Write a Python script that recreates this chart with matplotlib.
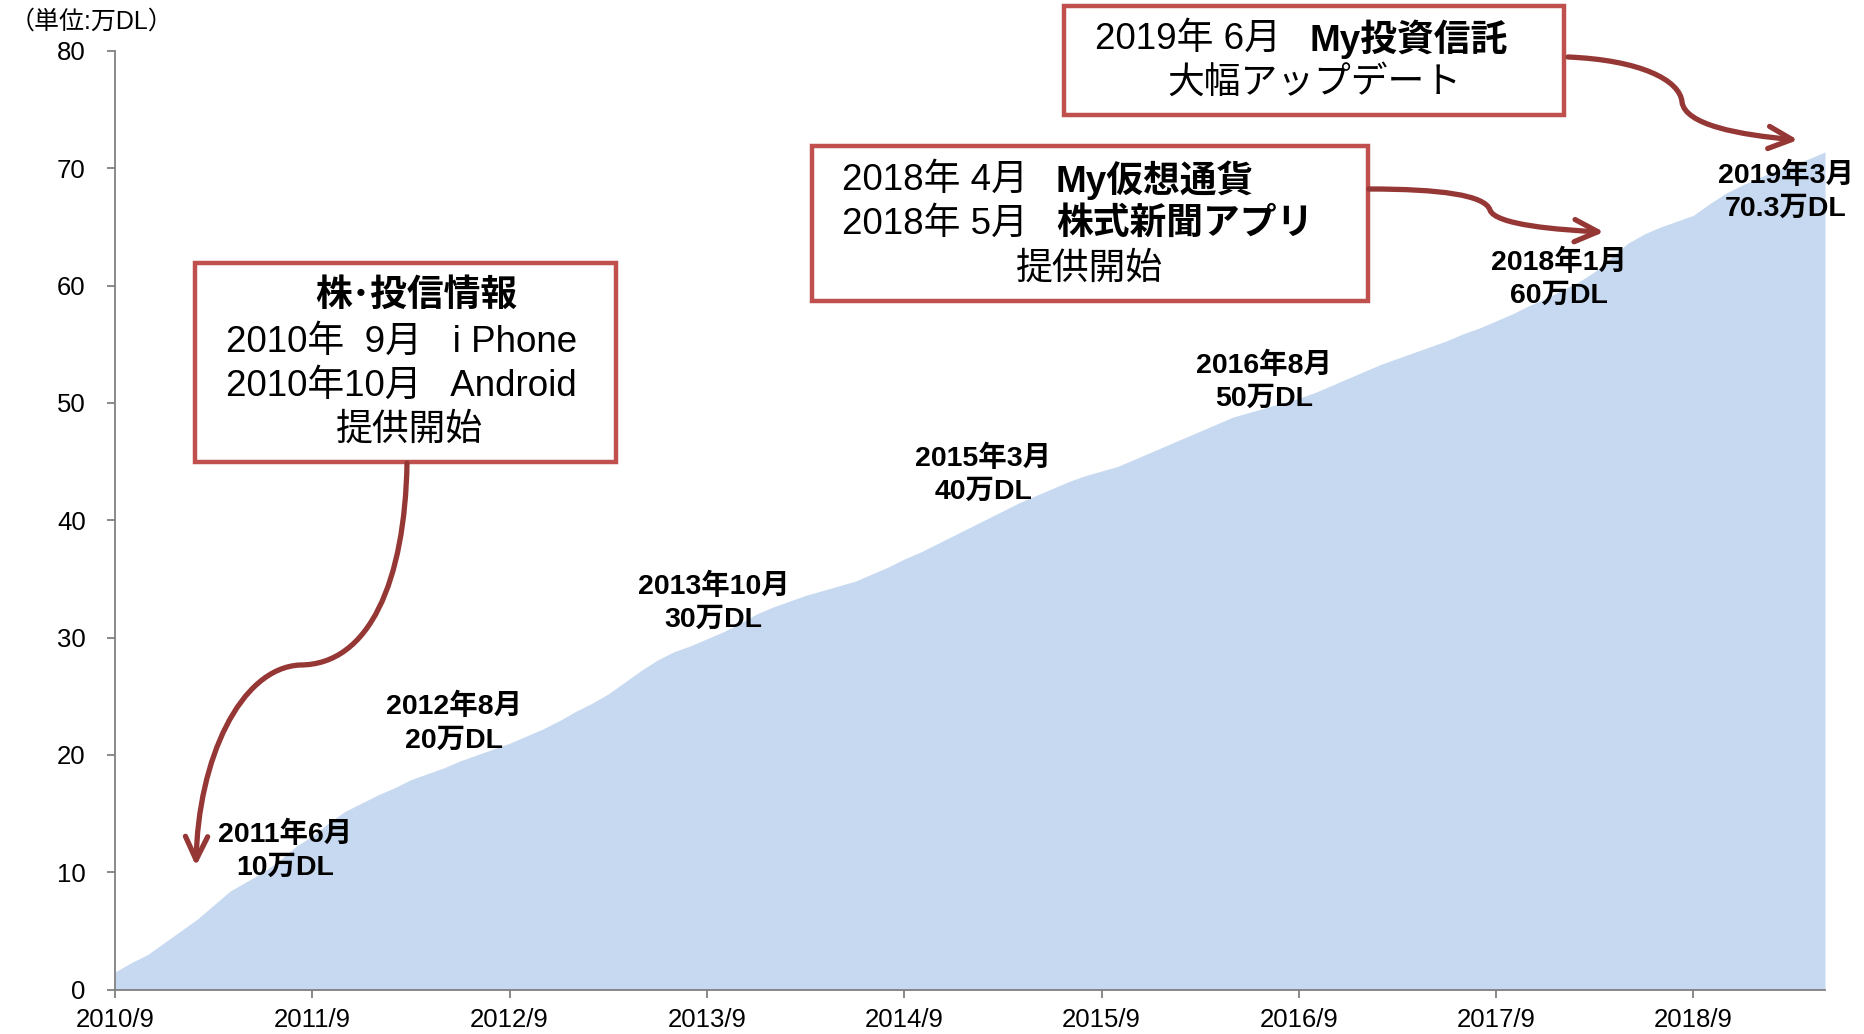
import matplotlib
matplotlib.use("Agg")
import matplotlib.pyplot as plt
from matplotlib.patches import Rectangle, FancyArrowPatch
from matplotlib.path import Path

plt.rcParams['font.family'] = ['Liberation Sans', 'Noto Sans CJK JP']

# monthly cumulative downloads (万DL), 2010/9 .. 2019/5
downloads = [
    1.5, 2.3, 3.0, 4.0, 5.0, 6.0, 7.2, 8.4, 9.2, 10.0,
    11.0, 12.2, 13.1, 14.2, 15.2, 15.9, 16.6, 17.2, 17.9, 18.4,
    18.9, 19.5, 20.0, 20.5, 21.0, 21.6, 22.2, 22.9, 23.7, 24.4,
    25.2, 26.2, 27.2, 28.1, 28.8, 29.3, 29.9, 30.5, 31.2, 32.0,
    32.6, 33.1, 33.6, 34.0, 34.4, 34.8, 35.4, 36.0, 36.7, 37.3,
    38.0, 38.7, 39.4, 40.1, 40.8, 41.5, 42.1, 42.7, 43.3, 43.8,
    44.2, 44.6, 45.2, 45.8, 46.4, 47.0, 47.6, 48.2, 48.8, 49.2,
    49.6, 50.0, 50.4, 50.9, 51.5, 52.1, 52.7, 53.3, 53.8, 54.3,
    54.8, 55.3, 55.9, 56.4, 57.0, 57.6, 58.3, 58.9, 59.6, 60.3,
    61.2, 62.4, 63.6, 64.4, 65.0, 65.5, 66.0, 67.0, 67.9, 68.6,
    69.2, 69.8, 70.3, 70.8, 71.4,
]
months = list(range(len(downloads)))

tick_months = [0, 12, 24, 36, 48, 60, 72, 84, 96]
tick_labels = ['2010/9', '2011/9', '2012/9', '2013/9', '2014/9',
               '2015/9', '2016/9', '2017/9', '2018/9']

# milestone labels: (month index, value position, text)
milestones = [
    (10.35, 11.85, '2011年6月\n10万DL'),
    (20.6, 22.7, '2012年8月\n20万DL'),
    (36.4, 33.0, '2013年10月\n30万DL'),
    (52.8, 43.9, '2015年3月\n40万DL'),
    (69.9, 51.8, '2016年8月\n50万DL'),
    (87.8, 60.6, '2018年1月\n60万DL'),
    (101.6, 68.0, '2019年3月\n70.3万DL'),
]

W, H = 1864, 1034
fig = plt.figure(figsize=(W / 100, H / 100), dpi=100)
ax = fig.add_axes([115 / W, 1 - 989.6 / H, (1825 - 115) / W, (989.6 - 51) / H])

ax.fill_between(months, downloads, 0, color='#C6D9F0', linewidth=0)
ax.set_xlim(0, months[-1])
ax.set_ylim(0, 80)
ax.set_xticks(tick_months)
ax.set_xticklabels(tick_labels)
ax.set_yticks(range(0, 81, 10))

for side in ['top', 'right']:
    ax.spines[side].set_visible(False)
for side in ['left', 'bottom']:
    ax.spines[side].set_color('#808080')
    ax.spines[side].set_linewidth(1.3)
ax.tick_params(axis='both', colors='#808080', labelcolor='black', labelsize=18.5,
               length=6, width=1.3, direction='out')
ax.tick_params(axis='y', pad=15)
ax.tick_params(axis='x', pad=7)

for m, v, label in milestones:
    ax.text(m, v, label, ha='center', va='center', fontsize=20.5,
            fontweight='bold', linespacing=1.35)


def px(x, y):
    # full-size pixel (top-left origin) -> figure fraction
    return x / W, 1 - y / H


fig.text(*px(10, 22), '（単位:万DL）', fontsize=18, ha='left', va='center')

box_color = '#C0504D'
boxes = [(195, 263, 616, 462), (812, 146, 1368, 301), (1064, 6, 1564, 115)]
for x0, y0, x1, y1 in boxes:
    fx0, fy1 = px(x0, y1)
    fx1, fy0 = px(x1, y0)
    fig.add_artist(Rectangle((fx0, fy1), fx1 - fx0, fy0 - fy1, transform=fig.transFigure,
                             facecolor='white', edgecolor=box_color, linewidth=3.2, zorder=3))

fs = 26.5
# box 1
fig.text(*px(416, 296), '株･投信情報', fontsize=fs, fontweight='bold', ha='center', va='center', zorder=4)
fig.text(*px(226, 342), '2010年  9月   i Phone', fontsize=fs, ha='left', va='center', zorder=4)
fig.text(*px(226, 386), '2010年10月   Android', fontsize=fs, ha='left', va='center', zorder=4)
fig.text(*px(409, 430), '提供開始', fontsize=fs, ha='center', va='center', zorder=4)
# box 2
fig.text(*px(842, 180), '2018年 4月', fontsize=fs, ha='left', va='center', zorder=4)
fig.text(*px(1056, 180), 'My仮想通貨', fontsize=fs, fontweight='bold', ha='left', va='center', zorder=4)
fig.text(*px(842, 224), '2018年 5月', fontsize=fs, ha='left', va='center', zorder=4)
fig.text(*px(1056, 224), '株式新聞アプリ', fontsize=fs, fontweight='bold', ha='left', va='center', zorder=4)
fig.text(*px(1089, 269), '提供開始', fontsize=fs, ha='center', va='center', zorder=4)
# box 3
fig.text(*px(1095, 39), '2019年 6月', fontsize=fs, ha='left', va='center', zorder=4)
fig.text(*px(1309, 39), 'My投資信託', fontsize=fs, fontweight='bold', ha='left', va='center', zorder=4)
fig.text(*px(1314, 83), '大幅アップデート', fontsize=fs, ha='center', va='center', zorder=4)

arrow_color = '#953735'
curves = [
    [(407, 463), (405, 580), (370, 665), (300, 665), (240, 668), (198, 760), (196, 866)],
    [(1369, 189), (1440, 189), (1485, 195), (1490, 210), (1495, 225), (1560, 230), (1604, 232)],
    [(1568, 57), (1640, 60), (1680, 80), (1682, 102), (1685, 125), (1740, 135), (1798, 140)],
]
for pts in curves:
    verts = [px(x, y) for x, y in pts]
    codes = [Path.MOVETO] + [Path.CURVE4] * (len(verts) - 1)
    arrow = FancyArrowPatch(path=Path(verts, codes), transform=fig.transFigure,
                            arrowstyle='->,head_length=0.42,head_width=0.2',
                            mutation_scale=40, color=arrow_color, linewidth=3.8,
                            zorder=5)
    fig.add_artist(arrow)

fig.savefig('out.png', dpi=100)
